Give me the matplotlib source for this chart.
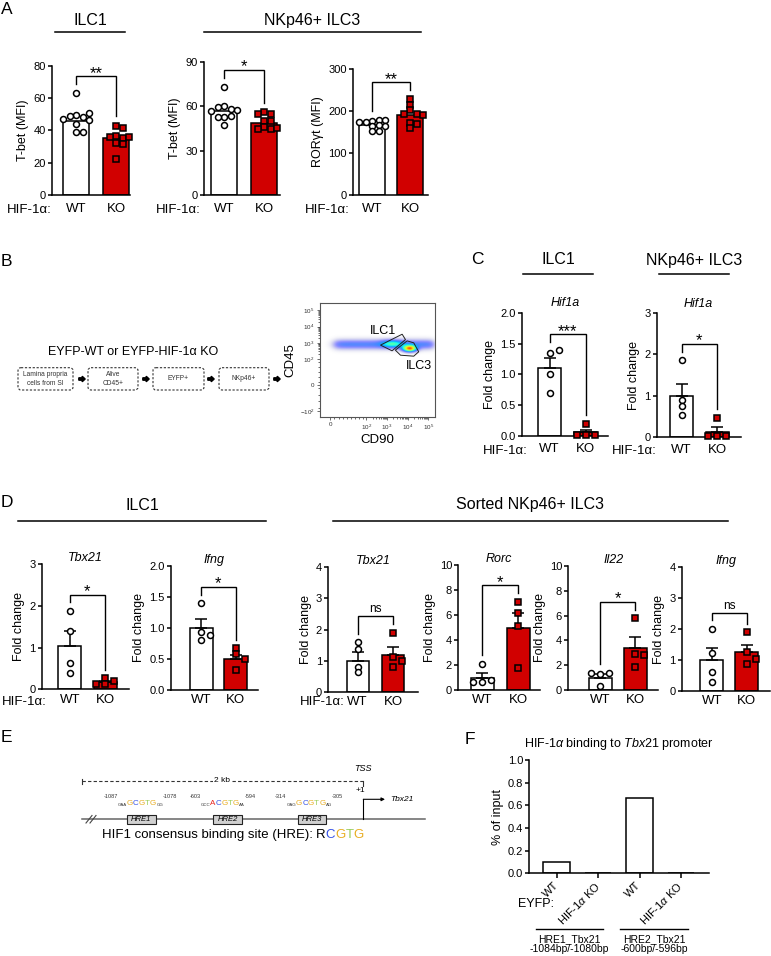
import numpy as np
import matplotlib
matplotlib.use('Agg')
import matplotlib.pyplot as plt
from matplotlib.patches import FancyBboxPatch, Polygon, Rectangle, FancyArrow

plt.rcParams['font.family'] = ['Liberation Sans', 'DejaVu Sans']
plt.rcParams['mathtext.fontset'] = 'custom'
plt.rcParams['mathtext.rm'] = 'Liberation Sans'
plt.rcParams['mathtext.it'] = 'Liberation Sans:italic'
plt.rcParams['mathtext.bf'] = 'Liberation Sans:bold'
plt.rcParams['axes.linewidth'] = 1.1

W, H = 771, 956
RED = '#d10000'
GOLD = '#e8ad22'
GREEN = '#9acd5a'
BLUE = '#3552e6'
SEQRED = '#e8231c'

groups = ['WT', 'KO']

# ---- A: MFI (flow) ----
a_ilc1_tbet_wt = [63, 49.5, 48, 49, 50.5, 46.5, 47, 44, 39, 39]
a_ilc1_tbet_ko = [43, 41.5, 36.5, 35, 36, 36, 32, 31.5, 22]
a_ilc1_tbet_mean = [46, 35.5]

a_ilc3_tbet_wt = [73, 60, 58, 59.5, 57.5, 57, 53, 53.5, 52.5, 47.5]
a_ilc3_tbet_ko = [56, 55, 55, 50, 50, 46, 45, 45, 45.5]
a_ilc3_tbet_mean = [57, 48.5]

a_ilc3_ror_wt = [176, 178, 173, 178, 174, 164, 166, 165, 152, 152]
a_ilc3_ror_ko = [229, 215, 202, 194, 194, 191, 172, 170, 160]
a_ilc3_ror_mean = [166, 191]

# ---- C: Hif1a qPCR ----
c_ilc1_wt = [1.0, 0.69, 1.35, 1.39]
c_ilc1_ko = [0.2, 0.01, 0.01, 0.01]
c_ilc1_mean = [1.11, 0.06]
c_ilc1_sem = [0.16, 0.045]

c_ilc3_wt = [1.86, 0.89, 0.75, 0.53]
c_ilc3_ko = [0.46, 0.02, 0.02, 0.02]
c_ilc3_mean = [1.0, 0.12]
c_ilc3_sem = [0.29, 0.11]

# ---- D: qPCR ----
d_ilc1_tbx21_wt = [1.88, 1.4, 0.62, 0.4]
d_ilc1_tbx21_ko = [0.26, 0.13, 0.19, 0.13]
d_ilc1_tbx21_mean = [1.05, 0.18]
d_ilc1_tbx21_sem = [0.35, 0.03]

d_ilc1_ifng_wt = [1.4, 0.94, 0.89, 0.8]
d_ilc1_ifng_ko = [0.67, 0.58, 0.5, 0.33]
d_ilc1_ifng_mean = [1.0, 0.5]
d_ilc1_ifng_sem = [0.14, 0.07]

d_ilc3_tbx21_wt = [1.59, 1.36, 0.8, 0.62]
d_ilc3_tbx21_ko = [1.9, 1.1, 0.78, 0.99]
d_ilc3_tbx21_mean = [1.0, 1.19]
d_ilc3_tbx21_sem = [0.28, 0.26]

d_ilc3_rorc_wt = [2.08, 0.67, 0.8, 0.67]
d_ilc3_rorc_ko = [7.07, 6.19, 5.15, 1.79]
d_ilc3_rorc_mean = [1.0, 5.0]
d_ilc3_rorc_sem = [0.35, 1.2]

d_ilc3_il22_wt = [1.3, 1.4, 1.35, 0.3]
d_ilc3_il22_ko = [5.78, 2.9, 2.85, 1.88]
d_ilc3_il22_mean = [1.0, 3.36]
d_ilc3_il22_sem = [0.3, 0.9]

d_ilc3_ifng_wt = [2.0, 1.22, 0.63, 0.3]
d_ilc3_ifng_ko = [1.9, 1.27, 0.87, 1.02]
d_ilc3_ifng_mean = [1.0, 1.25]
d_ilc3_ifng_sem = [0.38, 0.25]

# ---- F: ChIP ----
f_labels = ['WT', 'HIF-1$\\alpha$ KO', 'WT', 'HIF-1$\\alpha$ KO']
f_values = [0.103, 0.0, 0.668, 0.0]
f_sites = ['HRE1_Tbx21\n-1084bp/-1080bp', 'HRE2_Tbx21\n-600bp/-596bp']

# ---- B: flow populations (centre x, centre y, sd x, sd y, weight) ----
flow_band = (2.9, 0.2, 0.2)
flow_pops = [(3.0, 2.95, 0.35, 0.15, 0.25), (3.85, 2.65, 0.22, 0.13, 0.75)]
gate_ilc1 = [(2.43, 2.86), (3.48, 3.53), (3.64, 3.2), (2.99, 2.51)]
gate_ilc3 = [(3.15, 2.55), (3.72, 3.12), (4.04, 3.0), (4.28, 2.45), (4.04, 2.18), (3.40, 2.24)]

fig = plt.figure(figsize=(W / 100, H / 100), dpi=100)

ov = fig.add_axes([0, 0, 1, 1])
ov.set_xlim(0, W)
ov.set_ylim(H, 0)
ov.axis('off')
ov.patch.set_alpha(0)


def px_axes(x0, y0, x1, y1):
    return fig.add_axes([x0 / W, 1 - y1 / H, (x1 - x0) / W, (y1 - y0) / H])


def swarm(vals, ppu, unit, step, d=5.0):
    placed, xs = [], []
    for v in vals:
        py = v * ppu
        for k in [0, 1, -1, 2, -2, 3, -3]:
            px = k * step
            if all((px - qx) ** 2 + (py - qy) ** 2 >= d ** 2 for qx, qy in placed):
                break
        placed.append((px, py))
        xs.append(px / unit)
    return xs


def bracket(ax, wt, ko, ymax, label):
    top = max(max(wt), max(ko)) + 0.13 * ymax
    l = max(wt) + 0.07 * ymax
    r = max(ko) + 0.07 * ymax
    ax.plot([0, 0, 1, 1], [l, top, top, r], color='k', lw=1.0, clip_on=False,
            solid_joinstyle='miter')
    if label == 'ns':
        ax.annotate(label, (0.5, top), xytext=(0, 3), textcoords='offset points',
                    ha='center', va='baseline', fontsize=8.5)
    else:
        ax.annotate(label, (0.5, top), xytext=(0, -1), textcoords='offset points',
                    ha='center', va='baseline', fontsize=12)


def bar_panel(box, cw, ck, ymax, yticks, wt, ko, mean, sem=None, sig='*',
              title=None, ylabel='Fold change', step=9.0, bw=23, xpad=5,
              tpad=3, fmt='{:g}'):
    x0, x1, y0, y1 = box
    unit = ck - cw
    ax = px_axes(x0, y0, x1, y1)
    ax.set_xlim((x0 - cw) / unit, (x1 - cw) / unit)
    ax.set_ylim(0, ymax)
    ax.bar([0, 1], mean, width=bw / unit, color=['white', RED], edgecolor='k',
           lw=1.1, zorder=2)
    if sem is not None:
        ax.errorbar([0, 1], mean, yerr=[[0, 0], sem], fmt='none', ecolor='k',
                    elinewidth=1.1, capsize=4, capthick=1.1, zorder=3)
    ppu = (y1 - y0) / ymax
    styles = [dict(marker='o', ms=4.3, mfc='white', mec='k', mew=1.1),
              dict(marker='s', ms=4.1, mfc=RED, mec='k', mew=1.1)]
    for i, vals in enumerate([wt, ko]):
        xs = np.array(swarm(vals, ppu, unit, step)) + i
        ax.plot(xs, vals, linestyle='none', clip_on=False, zorder=4, **styles[i])
    bracket(ax, wt, ko, ymax, sig)
    ax.set_yticks(yticks)
    ax.set_yticklabels([fmt.format(t) for t in yticks])
    ax.set_xticks([0, 1])
    ax.set_xticklabels(groups, fontsize=9.5)
    ax.tick_params(axis='x', length=0, pad=xpad)
    ax.tick_params(axis='y', length=3, width=1.1, labelsize=8, pad=1.5)
    for s in ['top', 'right']:
        ax.spines[s].set_visible(False)
    ax.set_ylabel(ylabel, fontsize=9, labelpad=3)
    if title:
        ax.set_title(title, fontsize=9, style='italic', pad=tpad)
    return ax


def header(x0, x1, y_text, y_line, txt):
    ov.text((x0 + x1) / 2, y_text, txt, fontsize=11.5, ha='center', va='center')
    ov.plot([x0, x1], [y_line, y_line], color='k', lw=1.1)


def letter(x, y, s):
    ov.text(x, y, s, fontsize=12.5, ha='left', va='center')


# ================= Panel A =================
letter(1, 9, 'A')
header(55, 125, 20, 32.3, 'ILC1')
header(204, 420.7, 20, 32.3, 'NKp46+ ILC3')
bar_panel((52, 130, 65.7, 195), 76, 116, 80, [0, 20, 40, 60, 80],
          a_ilc1_tbet_wt, a_ilc1_tbet_ko, a_ilc1_tbet_mean, sig='**',
          ylabel='T-bet (MFI)', step=6.5, bw=26, xpad=5.5)
bar_panel((204, 280, 62, 195), 224, 264, 90, [0, 30, 60, 90],
          a_ilc3_tbet_wt, a_ilc3_tbet_ko, a_ilc3_tbet_mean, sig='*',
          ylabel='T-bet (MFI)', step=6.5, bw=26, xpad=5.5)
bar_panel((353, 428, 69, 195), 372, 410, 300, [0, 100, 200, 300],
          a_ilc3_ror_wt, a_ilc3_ror_ko, a_ilc3_ror_mean, sig='**',
          ylabel='RORγt (MFI)', step=6.5, bw=26, xpad=5.5)
for x in [7, 156, 305]:
    ov.text(x, 210, 'HIF-1α:', fontsize=9.5, ha='left', va='center')

# ================= Panel B =================
letter(1, 261, 'B')
ov.text(133, 352, 'EYFP-WT or EYFP-HIF-1α KO', fontsize=9, ha='center', va='center')
boxes = [(18, 73, 'Lamina propria\ncells from SI'), (88, 138, 'Alive\nCD45+'),
         (153, 204, 'EYFP+'), (219, 269, 'NKp46+')]
for x0, x1, txt in boxes:
    ov.add_patch(FancyBboxPatch((x0, 367.7), x1 - x0, 22.3,
                                boxstyle='round,pad=0,rounding_size=3',
                                ls=(0, (2, 1.5)), lw=0.8, ec='#333', fc='none'))
    ov.text((x0 + x1) / 2, 379, txt, fontsize=4.8, ha='center', va='center',
            color='#333', linespacing=1.3)
for x in [82, 146, 211, 277]:
    ov.add_patch(FancyArrow(x - 3.2, 379, 3.4, 0, width=2.4, head_width=5.5,
                            head_length=3.0, color='k', length_includes_head=False))

fl = px_axes(320, 303.3, 435, 416.7)
fx0, fx1, fy0, fy1 = -0.5, 5.07, -1.54, 5.43
fl.set_xlim(fx0, fx1)
fl.set_ylim(fy0, fy1)
gx = np.linspace(fx0, fx1, 240)
gy = np.linspace(fy0, fy1, 300)
X, Y = np.meshgrid(gx, gy)


def sgm(z):
    return 1 / (1 + np.exp(-z))


by, bsy, bamp = flow_band
dens = bamp * np.exp(-0.5 * ((Y - by) / bsy) ** 2) * sgm((X - 0.2) / 0.12) * sgm((5.0 - X) / 0.1)
for cx, cy, sx, sy, a in flow_pops:
    dens = dens + a * np.exp(-0.5 * (((X - cx) / sx) ** 2 + ((Y - cy) / sy) ** 2))
alpha = np.clip(dens / 0.3, 0, 0.95)
fl.imshow(dens, extent=(fx0, fx1, fy0, fy1), origin='lower', cmap='jet', vmin=0,
          vmax=1, alpha=alpha, aspect='auto', interpolation='bilinear')
fl.add_patch(Polygon(gate_ilc1, closed=True, fill=False, ec='#222', lw=0.7))
fl.add_patch(Polygon(gate_ilc3, closed=True, fill=False, ec='#222', lw=0.7))
fl.text(2.55, 3.7, 'ILC1', fontsize=9, ha='center', va='center')
fl.text(4.3, 1.6, 'ILC3', fontsize=9, ha='center', va='center')
fl.set_xticks([0, 1.75, 2.75, 3.75, 4.75])
fl.set_xticklabels(['0', '$10^2$', '$10^3$', '$10^4$', '$10^5$'])
fl.set_yticks([-1.2, 0.4, 2, 3, 4, 5])
fl.set_yticklabels(['$-10^2$', '0', '$10^2$', '$10^3$', '$10^4$', '$10^5$'])
mx = [d + np.log10(k) for d in [1.75, 2.75, 3.75] for k in range(2, 10)]
mx += list(np.linspace(0.2, 1.6, 8))
my = [d + np.log10(k) for d in [2, 3, 4] for k in range(2, 10)]
my += list(np.linspace(-1.0, 0.2, 4)) + list(np.linspace(0.6, 1.8, 5))
fl.set_xticks(mx, minor=True)
fl.set_yticks(my, minor=True)
fl.tick_params(which='both', direction='out', width=0.5, labelsize=4.5, pad=1.5,
               color='#333', labelcolor='#333')
fl.tick_params(which='major', length=2.5)
fl.tick_params(which='minor', length=1.3)
for s in fl.spines.values():
    s.set_linewidth(0.8)
    s.set_color('#555')
fl.set_xlabel('CD90', fontsize=9.5, labelpad=2)
fl.set_ylabel('CD45', fontsize=9.5, labelpad=2)

# ================= Panel C =================
ov.text(471, 260, 'C', fontsize=12.5, ha='left', va='center')
header(523, 593, 260, 274, 'ILC1')
header(659, 729, 260, 274, 'NKp46+ ILC3')
bar_panel((521.7, 608, 312.7, 436), 549.5, 585.5, 2.0, [0, 0.5, 1.0, 1.5, 2.0],
          c_ilc1_wt, c_ilc1_ko, c_ilc1_mean, c_ilc1_sem, sig='***', title='Hif1a',
          fmt='{:.1f}', tpad=4.5, xpad=5)
bar_panel((656.7, 740.7, 313.3, 436.7), 681.5, 717.3, 3, [0, 1, 2, 3],
          c_ilc3_wt, c_ilc3_ko, c_ilc3_mean, c_ilc3_sem, sig='*', title='Hif1a',
          tpad=4.5, xpad=5)
for x in [483, 612]:
    ov.text(x, 451, 'HIF-1α:', fontsize=9.5, ha='left', va='center')

# ================= Panel D =================
letter(1, 502, 'D')
header(18, 266, 505, 520.7, 'ILC1')
header(333, 727.7, 505, 520.7, 'Sorted NKp46+ ILC3')
dkw = dict(tpad=2.5, xpad=3.2)
bar_panel((41.7, 129.3, 564.3, 689.3), 69.7, 105, 3, [0, 1, 2, 3],
          d_ilc1_tbx21_wt, d_ilc1_tbx21_ko, d_ilc1_tbx21_mean, d_ilc1_tbx21_sem,
          sig='*', title='Tbx21', **dkw)
bar_panel((170.7, 258.3, 566, 690), 201, 235.8, 2.0, [0, 0.5, 1.0, 1.5, 2.0],
          d_ilc1_ifng_wt, d_ilc1_ifng_ko, d_ilc1_ifng_mean, d_ilc1_ifng_sem,
          sig='*', title='Ifng', fmt='{:.1f}', **dkw)
bar_panel((328.3, 418, 567.3, 691.7), 357.5, 393.3, 4, [0, 1, 2, 3, 4],
          d_ilc3_tbx21_wt, d_ilc3_tbx21_ko, d_ilc3_tbx21_mean, d_ilc3_tbx21_sem,
          sig='ns', title='Tbx21', bw=22, **dkw)
bar_panel((458.3, 540, 565, 690), 482, 518, 10, [0, 2, 4, 6, 8, 10],
          d_ilc3_rorc_wt, d_ilc3_rorc_ko, d_ilc3_rorc_mean, d_ilc3_rorc_sem,
          sig='*', title='Rorc', **dkw)
bar_panel((568.3, 658.3, 566, 690), 600, 635.3, 10, [0, 2, 4, 6, 8, 10],
          d_ilc3_il22_wt, d_ilc3_il22_ko, d_ilc3_il22_mean, d_ilc3_il22_sem,
          sig='*', title='Il22', **dkw)
bar_panel((681.7, 770, 567.3, 691), 711.7, 746.7, 4, [0, 1, 2, 3, 4],
          d_ilc3_ifng_wt, d_ilc3_ifng_ko, d_ilc3_ifng_mean, d_ilc3_ifng_sem,
          sig='ns', title='Ifng', **dkw)
for x in [2, 300]:
    ov.text(x, 702, 'HIF-1α:', fontsize=9.5, ha='left', va='center')

# ================= Panel E =================
letter(1, 737, 'E')
ov.plot([81.7, 363.3], [781, 781], color='#333', lw=0.8, ls=(0, (3, 2)))
ov.plot([81.7, 81.7], [779, 784], color='#333', lw=0.8)
ov.plot([363.3, 363.3], [781, 786], color='#333', lw=0.8)
ov.text(221.7, 781, '2 kb', fontsize=6, ha='center', va='center',
        bbox=dict(fc='white', ec='none', pad=0.8))
ov.text(363.3, 768.5, 'TSS', fontsize=6.5, style='italic', ha='center', va='center')
ov.text(360, 791, '+1', fontsize=6, ha='center', va='center')
ov.plot([81.7, 425], [819.3, 819.3], color='#666', lw=1.1)
for dx in [0, 4]:
    ov.plot([86 + dx, 92 + dx], [823, 815.5], color='#444', lw=0.8)
for x0, x1, name in [(126.7, 156, 'HRE1'), (213.3, 241.7, 'HRE2'), (298.3, 326, 'HRE3')]:
    ov.add_patch(Rectangle((x0, 815), x1 - x0, 9, fc='#d0d0d0', ec='#222', lw=0.8, zorder=3))
    ov.text((x0 + x1) / 2, 819.5, name, fontsize=5.5, style='italic', ha='center',
            va='center', zorder=4)
ov.plot([363.3, 363.3], [819.3, 799.3], color='k', lw=0.8)
ov.annotate('', xy=(385, 799.3), xytext=(363.3, 799.3),
            arrowprops=dict(arrowstyle='-|>', lw=0.8, color='k', mutation_scale=5,
                            shrinkA=0, shrinkB=0))
ov.text(390, 799.3, 'Tbx21', fontsize=6, style='italic', ha='left', va='center')

renderer = fig.canvas.get_renderer()


def seq_text(x, y, pieces):
    for s, col, fs, dy in pieces:
        t = ov.text(x, y + dy, s, color=col, fontsize=fs, ha='left', va='baseline')
        x += t.get_window_extent(renderer).width


SUP, SUB, BIG = 4.0, 3.2, 5.8
cols = {'G': GOLD, 'C': BLUE, 'T': GREEN, 'A': SEQRED, 'R': 'k'}


def motif(core):
    return [(ch, cols[ch], BIG, 0) for ch in core]


seq_text(103.3, 805, [('-1087', '#333', SUP, -7), ('GAA', '#333', SUB, 1)]
         + motif('GCGTG') + [('GG', '#333', SUB, 1), ('-1078', '#333', SUP, -7)])
seq_text(189.3, 805, [('-603', '#333', SUP, -7), ('GCC', '#333', SUB, 1)]
         + motif('ACGTG') + [('AA', '#333', SUB, 1), ('-594', '#333', SUP, -7)])
seq_text(275, 805, [('-314', '#333', SUP, -7), ('GAG', '#333', SUB, 1)]
         + motif('GCGTG') + [('AG', '#333', SUB, 1), ('-305', '#333', SUP, -7)])
seq_text(101.7, 838, [('HIF1 consensus binding site (HRE): ', 'k', 9.5, 0)]
         + [(ch, cols[ch], 9.5, 0) for ch in 'RCGTG'])

# ================= Panel F =================
ov.text(465, 740, 'F', fontsize=12.5, ha='left', va='center')
fa = px_axes(529.3, 760, 709.3, 873.3)
funit = 41.4
fc0 = 556.7
fa.set_xlim((529.3 - fc0) / funit, (709.3 - fc0) / funit)
fa.set_ylim(0, 1.0)
fx = np.arange(len(f_values))
fa.bar(fx, f_values, width=26.7 / funit, color='white', edgecolor='k', lw=1.1, zorder=2)
fa.set_yticks(np.linspace(0, 1, 6))
fa.set_yticklabels(['{:.1f}'.format(v) for v in np.linspace(0, 1, 6)])
fa.set_xticks(fx)
fa.set_xticklabels(f_labels, rotation=45, ha='right', rotation_mode='anchor', fontsize=8)
for lbl in fa.get_xticklabels():
    lbl.set_va('center')
fa.tick_params(axis='x', length=3.6, width=1.1, pad=4)
fa.tick_params(axis='y', length=3, width=1.1, labelsize=8, pad=1.5)
for s in ['top', 'right']:
    fa.spines[s].set_visible(False)
fa.set_ylabel('% of input', fontsize=9, labelpad=3)
fa.set_title('HIF-1$\\alpha$ binding to $\\mathit{Tbx21}$ promoter', fontsize=9, pad=9)
ov.text(518, 904, 'EYFP:', fontsize=9, ha='left', va='center')
for (x0, x1), site in zip([(536, 603.3), (620, 688.3)], f_sites):
    ov.plot([x0, x1], [929, 929], color='k', lw=1.0)
    ov.text((x0 + x1) / 2, 944, site, fontsize=7.5, ha='center', va='center',
            linespacing=1.05)

fig.savefig('out.png', dpi=100)
